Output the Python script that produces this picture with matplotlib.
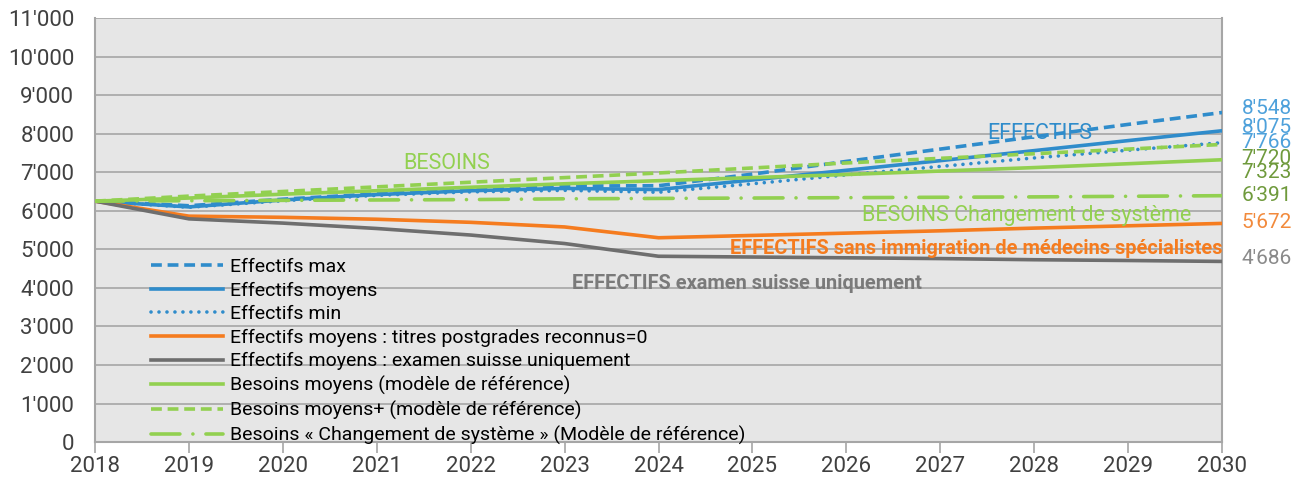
import matplotlib
matplotlib.use("Agg")
import matplotlib.pyplot as plt

plt.rcParams['font.family'] = ['Roboto', 'DejaVu Sans']

years = list(range(2018, 2031))

eff_max = [6250, 6130, 6300, 6440, 6560, 6640, 6650, 6950, 7280, 7600, 7920, 8240, 8548]
eff_moy = [6250, 6100, 6280, 6420, 6520, 6580, 6550, 6800, 7050, 7300, 7560, 7820, 8075]
eff_min = [6250, 6090, 6260, 6400, 6490, 6530, 6480, 6700, 6930, 7150, 7370, 7570, 7766]
eff_titres = [6250, 5860, 5830, 5780, 5700, 5580, 5300, 5360, 5420, 5480, 5550, 5610, 5672]
eff_suisse = [6250, 5790, 5680, 5540, 5370, 5150, 4820, 4800, 4780, 4760, 4730, 4710, 4686]
bes_moy = [6250, 6330, 6430, 6520, 6610, 6700, 6780, 6860, 6940, 7030, 7120, 7220, 7323]
bes_plus = [6250, 6380, 6500, 6620, 6740, 6860, 6980, 7110, 7240, 7360, 7480, 7600, 7720]
bes_chg = [6250, 6260, 6270, 6280, 6290, 6310, 6320, 6330, 6340, 6350, 6360, 6375, 6391]

labels = [
    "Effectifs max",
    "Effectifs moyens",
    "Effectifs min",
    "Effectifs moyens : titres postgrades reconnus=0",
    "Effectifs moyens : examen suisse uniquement",
    "Besoins moyens (modèle de référence)",
    "Besoins moyens+ (modèle de référence)",
    "Besoins « Changement de système » (Modèle de référence)",
]

BLUE = "#2f8ccb"
ORANGE = "#f57c1f"
GRAY = "#6e6e6e"
GREEN = "#92d050"


def fmt(v):
    return f"{v:,}".replace(",", "'")


def main():
    fig = plt.figure(figsize=(12.91, 4.8), dpi=100)
    ax = fig.add_axes([0.0736, 0.079, 0.873, 0.8835])
    ax.set_facecolor("#e6e6e6")

    series = [eff_max, eff_moy, eff_min, eff_titres, eff_suisse, bes_moy, bes_plus, bes_chg]
    colors = [BLUE, BLUE, BLUE, ORANGE, GRAY, GREEN, GREEN, GREEN]
    dotted = (0, (0.01, 2.2))
    dashdot = (0, (8, 3.6, 0.01, 3.6))
    styles = [(0, (3, 1.6)), "-", dotted, "-", "-", "-", (0, (3, 1.6)), dashdot]

    for s, c, ls, lab in zip(series, colors, styles, labels):
        cap = "round" if ls in (dotted, dashdot) else "butt"
        ax.plot(years, s, color=c, linestyle=ls, linewidth=2.6, label=lab, zorder=3,
                dash_capstyle=cap)

    # end value labels
    end_series = [eff_max, eff_moy, eff_min, bes_plus, bes_moy, bes_chg, eff_titres, eff_suisse]
    end_cols = ["#4ea1db", "#4ea1db", "#4ea1db", "#6f9a3c", "#6f9a3c", "#6f9a3c", "#f28a3c", "#8a8a8a"]
    offsets = [3, 2, 0, -10, -9, 0, 1, 2]
    for s, c, off in zip(end_series, end_cols, offsets):
        ax.annotate(fmt(s[-1]), xy=(years[-1], s[-1]), xytext=(14, off),
                    textcoords="offset points", ha="left", va="center",
                    fontsize=15, color=c, annotation_clip=False)

    # inline labels
    ax.text(2021.74, 7230, "BESOINS", color=GREEN, fontsize=15.5,
            ha="center", va="center")
    ax.text(2028.06, 8016, "EFFECTIFS", color=BLUE, fontsize=15.5,
            ha="center", va="center")
    ax.text(2027.92, 5889, "BESOINS Changement de système", color=GREEN, fontsize=15.5,
            ha="center", va="center")
    ax.text(2030, 5032, "EFFECTIFS sans immigration de médecins spécialistes", color=ORANGE,
            fontsize=14.4, fontweight="bold", ha="right", va="center")
    ax.text(2024.94, 4125, "EFFECTIFS examen suisse uniquement", color="#7a7a7a", fontsize=14.4,
            fontweight="bold", ha="center", va="center")

    ax.set_xlim(2018, 2030)
    ax.set_ylim(0, 11000)
    ax.set_xticks(years)
    ax.set_xticklabels([str(y) for y in years], fontsize=16, color="#404040")
    yt = list(range(0, 11001, 1000))
    ax.set_yticks(yt)
    ax.set_yticklabels([fmt(v) for v in yt], fontsize=16, color="#404040")
    ax.tick_params(axis="y", length=0, pad=15)
    ax.tick_params(axis="x", length=8, width=1.2, color="#a6a6a6", pad=2, direction="out")
    ax.grid(axis="y", color="#ababab", linewidth=1.3, zorder=0)
    ax.set_axisbelow(True)
    for side in ["left", "right", "bottom"]:
        ax.spines[side].set_color("#a6a6a6")
        ax.spines[side].set_linewidth(1.5)
    ax.spines["top"].set_visible(False)

    ax.legend(loc="upper left", bbox_to_anchor=(0.05, 0.434), frameon=False, fontsize=14,
              handlelength=3.7, handletextpad=0.35, labelspacing=0.285, borderaxespad=0,
              borderpad=0)

    fig.savefig("out.png", dpi=100)


if __name__ == "__main__":
    main()
